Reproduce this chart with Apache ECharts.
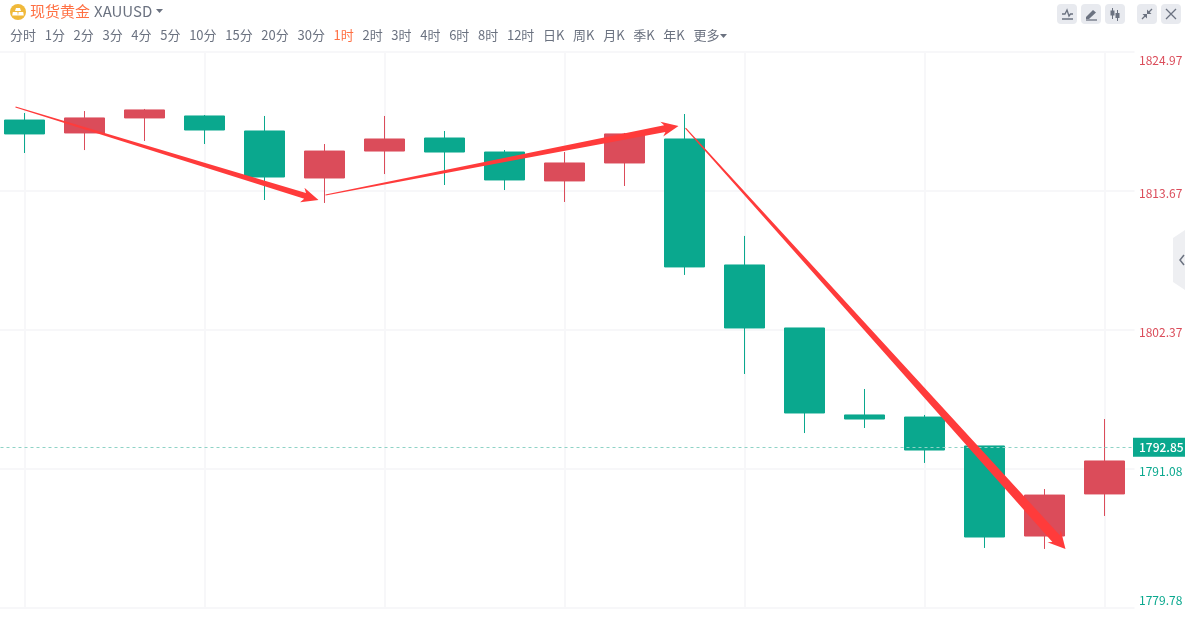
<!DOCTYPE html>
<html>
<head>
<meta charset="utf-8">
<title>现货黄金 XAUUSD</title>
<script src="https://cdn.jsdelivr.net/npm/echarts@6/dist/echarts.min.js"></script>
<style>
  html, body { margin: 0; padding: 0; background: #fff; }
  body { width: 1185px; height: 628px; position: relative; overflow: hidden; font-family: "Noto Sans CJK SC", "Noto Sans", sans-serif; }
  #chart { position: absolute; left: 0; top: 0; width: 1185px; height: 628px; }
  .head { position: absolute; left: 10px; top: 0; height: 22px; line-height: 21px; white-space: nowrap; }
  .head .name { position: absolute; left: 20px; top: 0; font-size: 15px; color: #ff7043; }
  .head .code { position: absolute; left: 84px; top: 0; font-size: 15px; color: #6b7280; }
  .head svg { position: absolute; top: 4px; }
  #periods { position: absolute; left: 10px; top: 25px; height: 20px; line-height: 20px; font-size: 13px; color: #6b7280; white-space: nowrap; display: flex; }
  #periods span { margin-right: 8.68px; }
  #periods .on { color: #ff7043; }
  .btn { position: absolute; top: 4px; width: 20px; height: 20px; background: #e8eaef; border-radius: 4px; }
  .btn svg { display: block; }
  #fold { position: absolute; left: 1173px; top: 230px; }
</style>
</head>
<body>
<div id="chart"></div>

<div class="head">
  <svg style="left:0" width="16" height="16" viewBox="0 0 16 16"><circle cx="8" cy="8" r="8" fill="#f0b93a"/><path d="M6 4h4l1 3H5zM2.8 8h4.6l.6 3.4H2.2zM8.6 8h4.6l.6 3.4H8z" fill="#fff"/></svg>
  <span class="name">现货黄金</span>
  <span class="code">XAUUSD</span>
  <svg style="left:146px;top:8px" width="8" height="6" viewBox="0 0 8 6"><path d="M0 1h7L3.5 5z" fill="#6b7280"/></svg>
</div>
<div id="periods"></div>

<div class="btn" style="left:1057px"><svg width="20" height="20" viewBox="0 0 20 20"><path d="M5 10h3l2-4 2 6 1.500-2H16" fill="none" stroke="#6b7280" stroke-width="1.300"/><path d="M5 15h11" stroke="#6b7280" stroke-width="1.500"/></svg></div>
<div class="btn" style="left:1081px"><svg width="20" height="20" viewBox="0 0 20 20"><path d="M5 13l7-7 3 2.500-7 6.500H5z" fill="#6b7280"/><path d="M5 16h11" stroke="#6b7280" stroke-width="1.300"/></svg></div>
<div class="btn" style="left:1105px"><svg width="20" height="20" viewBox="0 0 20 20"><path d="M7.500 4v11M12.500 6v11" stroke="#6b7280"/><path d="M5.500 6.500h4v5h-4zM10.500 9h4v5h-4z" fill="#6b7280"/></svg></div>
<div class="btn" style="left:1137px"><svg width="20" height="20" viewBox="0 0 20 20"><path d="M5 15l4-4M15 5l-4 4" stroke="#6b7280" stroke-width="1.300"/><path d="M5.500 10h4.500v4.500zM14.500 10H10V5.500z" fill="#6b7280"/></svg></div>
<div class="btn" style="left:1161px"><svg width="20" height="20" viewBox="0 0 20 20"><path d="M5 5l10 10M15 5L5 15" stroke="#6b7280" stroke-width="1.300"/></svg></div>

<svg id="fold" width="12" height="60" viewBox="0 0 12 60"><path d="M12 0L0 8v44l12 8z" fill="#eeeff2"/><path d="M11 25l-4 5 4 5" fill="none" stroke="#6b7280" stroke-width="1.500"/></svg>

<script>
// 周期
const periods = ["分时", "1分", "2分", "3分", "4分", "5分", "10分", "15分", "20分", "30分", "1时", "2时", "3时", "4时", "6时", "8时", "12时", "日K", "周K", "月K", "季K", "年K", "更多"];
const activePeriod = "1时";

// K线数据
const categories = ["1", "2", "3", "4", "5", "6", "7", "8", "9", "10", "11", "12", "13", "14", "15", "16", "17", "18", "19"];
const opens = [1819.44, 1818.39, 1819.61, 1819.77, 1818.55, 1814.73, 1816.92, 1817.98, 1816.84, 1814.49, 1815.95, 1817.9, 1807.66, 1802.54, 1795.47, 1795.3, 1792.95, 1785.63, 1789.05];
const closes = [1818.31, 1819.61, 1820.26, 1818.63, 1814.81, 1816.92, 1817.9, 1816.84, 1814.57, 1815.95, 1818.31, 1807.5, 1802.54, 1795.63, 1795.14, 1792.62, 1785.55, 1788.96, 1791.73];
const lows = [1816.76, 1817, 1817.74, 1817.49, 1812.94, 1812.7, 1815.05, 1814.16, 1813.75, 1812.78, 1814.08, 1806.85, 1798.8, 1794, 1794.41, 1791.57, 1784.66, 1784.58, 1787.26];
const highs = [1820.01, 1820.17, 1820.34, 1819.85, 1819.77, 1817.49, 1819.77, 1818.55, 1817, 1816.84, 1818.39, 1819.93, 1810.02, 1802.54, 1797.58, 1795.47, 1792.95, 1789.45, 1795.14];

// 价格轴
const priceTicks = [1779.78, 1791.08, 1802.37, 1813.67, 1824.97];
const lastPrice = 1792.85;

// 手绘箭头 [K线序号, 价格]
const arrowFrom = [[-0.15, 1820.5], [5.017, 1813.35], [11.017, 1818.79]];
const arrowTo = [[4.9, 1812.94], [10.9, 1818.96], [17.35, 1784.58]];

const red = "#db4c5a";
const green = "#0aa88e";
const gridColor = "#f7f7f9";
const arrowColor = "#ff3b3b";

document.getElementById("periods").innerHTML = periods
  .map(p => `<span class="${p === activePeriod ? "on" : ""}">${p}</span>`)
  .join("") + '<svg style="margin:9px 0 0 -8px" width="8" height="5" viewBox="0 0 8 5"><path d="M0 0h7L3.500 4z" fill="#6b7280"/></svg>';

// 尾细头粗的箭头，取两端坐标后画多边形
const renderArrow = (params, api) => {
  const i = params.dataIndex;
  const a = api.coord(arrowFrom[i]);
  const b = api.coord(arrowTo[i]);
  const dx = b[0] - a[0];
  const dy = b[1] - a[1];
  const len = Math.sqrt(dx * dx + dy * dy);
  const ux = dx / len;
  const uy = dy / len;
  const at = (along, side) => [b[0] - ux * along - uy * side, b[1] - uy * along + ux * side];
  const neck = [3, 3.5, 5][i];
  const tail = 0.6;
  const headLen = 17;
  const headSide = [7.5, 7.5, 9][i];
  const points = [
    at(len, tail),
    at(headLen - 3, neck),
    at(headLen, headSide),
    [b[0], b[1]],
    at(headLen, -headSide),
    at(headLen - 3, -neck),
    at(len, -tail)
  ];
  return { type: "polygon", shape: { points: points }, style: { fill: arrowColor } };
};

// 边上两个刻度贴着边框，中间的略低于网格线
const priceLabel = v => {
  const text = v.toFixed(2);
  if (v === priceTicks[0] || v === priceTicks[priceTicks.length - 1]) return `{edge|${text}}`;
  return `{gap| }\n{mid|${text}}`;
};

const chart = echarts.init(document.getElementById("chart"));
chart.setOption({
  animation: false,
  grid: { left: -5.5, right: 50.5, top: 52, bottom: 20, outerBoundsMode: "none" },
  xAxis: [
    {
      type: "category",
      data: categories,
      axisLine: { show: false },
      axisTick: { show: false },
      axisLabel: { show: false },
      splitLine: {
        show: true,
        interval: i => i % 3 === 0,
        alignWithLabel: true,
        lineStyle: { color: gridColor, width: 2 }
      }
    },
    // 箭头端点不在K线中心上，用一条隐藏的数值轴定位
    { type: "value", show: false, min: -0.5, max: categories.length - 0.5 }
  ],
  yAxis: {
    type: "value",
    position: "right",
    offset: -1.5,
    min: priceTicks[0],
    max: priceTicks[priceTicks.length - 1],
    axisLine: { show: true, lineStyle: { color: gridColor, width: 1 } },
    axisTick: { show: false, customValues: priceTicks },
    splitLine: { show: true, lineStyle: { color: gridColor, width: 2 } },
    axisLabel: {
      customValues: priceTicks,
      margin: 6,
      fontSize: 12,
      fontFamily: "Noto Sans CJK SC",
      formatter: priceLabel,
      color: v => (v > lastPrice ? red : green),
      verticalAlignMinLabel: "bottom",
      verticalAlignMaxLabel: "top",
      rich: {
        edge: { lineHeight: 16, fontSize: 12, fontFamily: "Noto Sans CJK SC" },
        mid: { lineHeight: 12, fontSize: 12, fontFamily: "Noto Sans CJK SC" },
        gap: { lineHeight: 4, fontSize: 4 }
      }
    }
  },
  series: [
    {
      type: "candlestick",
      barWidth: 40,
      data: categories.map((c, i) => [opens[i], closes[i], lows[i], highs[i]]),
      itemStyle: { color: red, color0: green, borderColor: red, borderColor0: green, borderWidth: 1 },
      markLine: {
        silent: true,
        symbol: "none",
        data: [{ yAxis: lastPrice }],
        lineStyle: { color: "#8fd3c6", type: [3, 3], width: 1 },
        label: {
          position: "end",
          distance: -1.5,
          formatter: () => lastPrice.toFixed(2),
          color: "#fff",
          fontSize: 12,
          fontWeight: 500,
          fontFamily: "Noto Sans CJK SC",
          backgroundColor: green,
          padding: [4, 3, 3, 6]
        }
      }
    },
    {
      type: "custom",
      xAxisIndex: 1,
      data: arrowFrom.map((d, i) => i),
      clip: false,
      z: 10,
      renderItem: renderArrow
    }
  ]
});
</script>
</body>
</html>
